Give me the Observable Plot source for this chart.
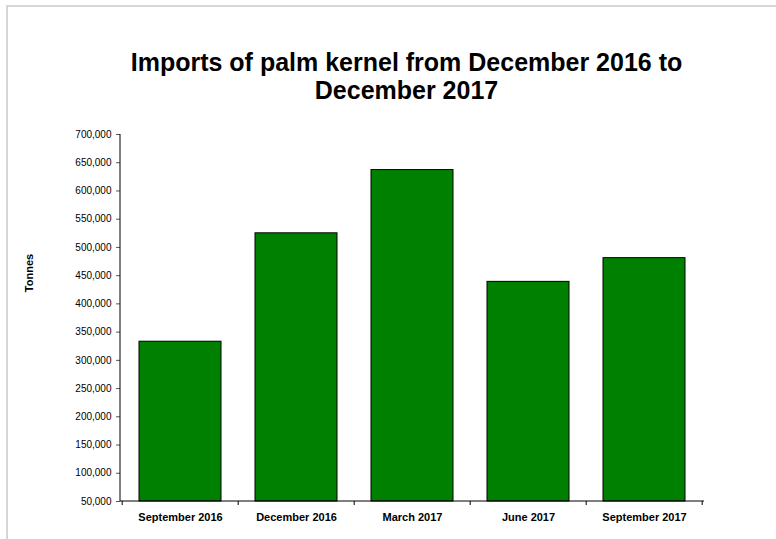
<!DOCTYPE html>
<html><head><meta charset="utf-8">
<script src="https://cdn.jsdelivr.net/npm/d3@7"></script>
<script src="https://cdn.jsdelivr.net/npm/@observablehq/plot@0.6"></script>
<style>
body{margin:0;background:#fff;font-family:"Liberation Sans",Arial,sans-serif}
#wrap{position:relative;width:776px;height:539px;overflow:hidden}
#border{position:absolute;left:6px;top:5px;width:900px;height:700px;border-top:2px solid #d6d6d6;border-left:2px solid #d6d6d6;z-index:2;pointer-events:none}
#chart svg{display:block}
</style></head>
<body><div id="wrap"><div id="border"></div><div id="chart"></div></div>
<script>
const categories = ["September 2016", "December 2016", "March 2017", "June 2017", "September 2017"];
const tonnes = [333000, 525000, 637000, 439000, 481000];
const yTicks = [50000, 100000, 150000, 200000, 250000, 300000, 350000, 400000, 450000, 500000, 550000, 600000, 650000, 700000];
const titleLines = ["Imports of palm kernel from December 2016 to", "December 2017"];
const yLabel = "Tonnes";

const data = categories.map((c, i) => ({category: c, value: tonnes[i]}));
const yMin = yTicks[0], yMax = yTicks[yTicks.length - 1];
const padInner = 0.29;

// custom mark: axis lines and category boundary ticks, positioned through the scales
function axisDecor(index, scales, values, dims) {
  const ns = "http://www.w3.org/2000/svg";
  const g = document.createElementNS(ns, "g");
  const x = scales.x, y = scales.y;
  const step = x(categories[1]) - x(categories[0]);
  const y0 = y(yMin), y1 = y(yMax);
  const xl = dims.marginLeft, xr = dims.width - dims.marginRight;
  const line = (a, b, c, d) => {
    const l = document.createElementNS(ns, "line");
    l.setAttribute("x1", a); l.setAttribute("y1", b); l.setAttribute("x2", c); l.setAttribute("y2", d);
    l.setAttribute("stroke", "#000"); l.setAttribute("stroke-width", 1);
    g.appendChild(l);
  };
  line(xl, y0, xl, y1);
  line(xl, y0, xr, y0);
  const bounds = categories.map(c => x(c) - padInner * step / 2);
  bounds.push(x(categories[categories.length - 1]) + step * (1 - padInner / 2));
  bounds.forEach(b => line(b, y0, b, y0 + 4));
  return g;
}

const chart = Plot.plot({
  width: 776,
  height: 539,
  marginLeft: 120,
  marginRight: 72,
  marginTop: 134,
  marginBottom: 38,
  style: {fontFamily: "'Liberation Sans', Arial, sans-serif", background: "transparent", color: "#000"},
  x: {domain: categories, paddingInner: padInner, paddingOuter: padInner / 2, label: null},
  y: {domain: [yMin, yMax], label: null},
  marks: [
    Plot.barY(data, {x: "category", y1: yMin, y2: "value", fill: "#008000", stroke: "#000", strokeWidth: 1}),
    Plot.axisY({ticks: yTicks, tickFormat: d3.format(","), tickSize: 4, tickPadding: 5, fontSize: 10, stroke: "#555", label: null}),
    Plot.axisX({tickSize: 0, tickPadding: 12, fontSize: 11, fontWeight: "bold", label: null}),
    axisDecor,
    Plot.text([titleLines[0]], {text: d => d, frameAnchor: "top", lineAnchor: "bottom", dx: -6, dy: -64, fontSize: 25, fontWeight: "bold", fill: "#000"}),
    Plot.text([titleLines[1]], {text: d => d, frameAnchor: "top", lineAnchor: "bottom", dx: -6, dy: -36, fontSize: 25, fontWeight: "bold", fill: "#000"}),
    Plot.text([yLabel], {text: d => d, frameAnchor: "left", textAnchor: "middle", rotate: -90, dx: -91, dy: -45, fontSize: 11, fontWeight: "bold", fill: "#000"})
  ]
});
document.getElementById("chart").appendChild(chart);
</script>
</body></html>
